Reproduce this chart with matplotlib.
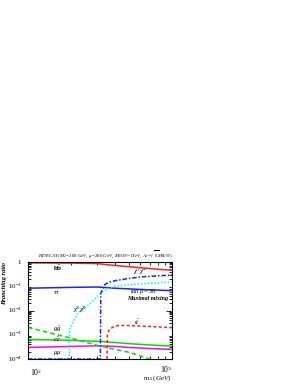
import numpy as np
import matplotlib
matplotlib.use("Agg")
import matplotlib.pyplot as plt
from matplotlib.ticker import LogLocator, NullFormatter, FixedLocator

plt.rcParams['font.family'] = ['Liberation Serif', 'DejaVu Serif']
plt.rcParams['mathtext.fontset'] = 'custom'
plt.rcParams['mathtext.rm'] = 'Liberation Serif'
plt.rcParams['mathtext.it'] = 'Liberation Serif:italic'
plt.rcParams['mathtext.bf'] = 'Liberation Serif:bold'

# m_A (GeV) and branching ratios
m_main = [100, 200, 300, 350, 400, 500, 600, 700, 800, 1000]
br_bb = [0.92, 0.90, 0.86, 0.78, 0.72, 0.64, 0.58, 0.54, 0.50, 0.46]
br_tautau = [0.083, 0.090, 0.093, 0.088, 0.083, 0.078, 0.074, 0.071, 0.069, 0.066]

m_light = [100, 200, 300, 400, 500, 700, 1000]
br_cc = [6.4e-4, 5.9e-4, 5.4e-4, 4.8e-4, 4.3e-4, 3.8e-4, 3.4e-4]
br_mumu = [3.0e-4, 3.3e-4, 3.5e-4, 3.3e-4, 3.0e-4, 2.7e-4, 2.5e-4]

m_gg = [100, 150, 200, 250, 300, 400, 500, 600, 700, 800]
br_gg = [2.0e-3, 1.1e-3, 7.2e-4, 5.0e-4, 3.7e-4, 2.5e-4, 1.9e-4, 1.35e-4, 1.0e-4, 8e-5]

m_n0 = [100, 193, 195, 212, 223, 240, 260, 280, 300, 325, 350, 400, 500, 650, 1000]
br_n0 = [1e-4, 1e-4, 1.8e-3, 4.7e-3, 7.6e-3, 0.011, 0.016, 0.024, 0.036, 0.055, 0.075, 0.10, 0.115, 0.13, 0.15]

m_ch = [100, 318, 320, 330, 343, 370, 403, 500, 650, 1000]
br_ch = [1e-4, 1e-4, 0.05, 0.08, 0.12, 0.15, 0.17, 0.21, 0.25, 0.29]

m_tt = [354, 356, 365, 390, 420, 500, 700, 1000]
br_tt = [1e-4, 9.5e-4, 1.55e-3, 2.1e-3, 2.4e-3, 2.4e-3, 2.2e-3, 1.95e-3]

fig = plt.figure(figsize=(2.99, 3.87), dpi=100)
ax = fig.add_axes([28/299, 1-359/387, 144/299, 97/387])

lw = 1.1
ax.plot(m_main, br_bb, color='#ff2020', lw=lw)
ax.plot(m_main, br_tautau, color='#2020ff', lw=lw)
ax.plot(m_light, br_cc, color='#00e000', lw=lw)
ax.plot(m_light, br_mumu, color='#ff00ff', lw=lw)
ax.plot(m_gg, br_gg, color='#00e000', lw=lw, ls=(0, (3, 2)))
ax.plot(m_n0, br_n0, color='#00ffff', lw=lw, ls=(0, (1, 1.2)))
ax.plot(m_ch, br_ch, color='#2020ff', lw=lw, ls=(0, (3, 1.2, 1, 1.2)))
ax.plot(m_tt, br_tt, color='#ff2020', lw=lw, ls=(0, (2, 1.5)))

ax.set_xscale('log')
ax.set_yscale('log')
ax.set_xlim(100, 1000)
ax.set_ylim(1e-4, 1)

ax.xaxis.set_major_locator(FixedLocator([100, 1000]))
ax.xaxis.set_minor_locator(LogLocator(base=10, subs=np.arange(2, 10)))
ax.xaxis.set_minor_formatter(NullFormatter())
ax.yaxis.set_minor_locator(LogLocator(base=10, subs=np.arange(2, 10), numticks=20))
ax.yaxis.set_minor_formatter(NullFormatter())
ax.set_xticklabels([])
ax.set_yticklabels([])
ax.tick_params(which='both', direction='in', top=True, right=True, width=0.6)
ax.tick_params(which='major', length=4)
ax.tick_params(which='minor', length=2)
for s in ax.spines.values():
    s.set_linewidth(0.8)

tfs = 5
# y tick labels
ylabs = [(1, r'$\mathit{1}$'), (1e-1, r'$\mathit{10}^{\mathit{-1}}$'), (1e-2, r'$\mathit{10}^{\mathit{-2}}$'),
         (1e-3, r'$\mathit{10}^{\mathit{-3}}$'), (1e-4, r'$\mathit{10}^{\mathit{-4}}$')]
for v, s in ylabs:
    ax.text(-0.04, v, s, transform=ax.get_yaxis_transform(), ha='right', va='center', fontsize=tfs)
ax.text(103, 4.5e-5, r'$\mathit{10}^{\mathit{2}}$', ha='left', va='top', fontsize=tfs + 0.5)
ax.text(1000, 6.5e-5, r'$\mathit{10}^{\mathit{3}}$', ha='right', va='top', fontsize=tfs + 0.5)
ax.text(1.0, -0.15, r'$\mathit{m}_{\mathit{A}}\ \mathit{(GeV)}$', transform=ax.transAxes,
        ha='right', va='top', fontsize=tfs)
ax.text(-0.145, 1.0, 'Branching ratio', transform=ax.transAxes, rotation=90,
        ha='right', va='top', fontsize=4.7, style='italic', weight='bold')

ax.text(0.07, 1.02, r'$\mathit{HDECAY(\ M_2\!=\!200\ GeV,\ \mu\!=\!200\ GeV,\ M_{SUSY}\!=\!1TeV,\ A_t\!=\!\sqrt{6}M_{SUSY})}$',
        transform=ax.transAxes, ha='left', va='bottom', fontsize=3.5)

# curve labels
lfs = 5
ax.text(150, 0.85, r'$\mathbf{b\bar{b}}$', fontsize=lfs, ha='left', va='top', style='italic')
ax.text(150, 0.078, r'$\mathit{\tau\tau}$', fontsize=lfs, ha='left', va='top')
ax.text(540, 0.24, r'$\tilde{\chi}^{+}\tilde{\chi}^{-}$', fontsize=lfs, ha='left', va='bottom')
ax.text(510, 0.058, r'$\mathit{tan\ \beta = 30}$', fontsize=4.6, ha='left', va='center')
ax.text(490, 0.031, 'Maximal mixing', fontsize=4.3, ha='left', va='center', style='italic', weight='bold')
ax.text(205, 0.0105, r'$\tilde{\chi}^{0}\tilde{\chi}^{0}$', fontsize=lfs, ha='left', va='center')
ax.text(545, 3.3e-3, r'$\mathit{t\bar{t}}$', fontsize=lfs, ha='left', va='center')
ax.text(150, 1.7e-3, r'$\mathit{g\bar{g}}$', fontsize=lfs, ha='left', va='center')
ax.text(150, 6.0e-4, r'$\mathit{c\bar{c}}$', fontsize=lfs, ha='left', va='center')
ax.text(150, 1.7e-4, r'$\mathit{\mu\mu}$', fontsize=lfs, ha='left', va='center')

fig.savefig('out.png', dpi=100)
